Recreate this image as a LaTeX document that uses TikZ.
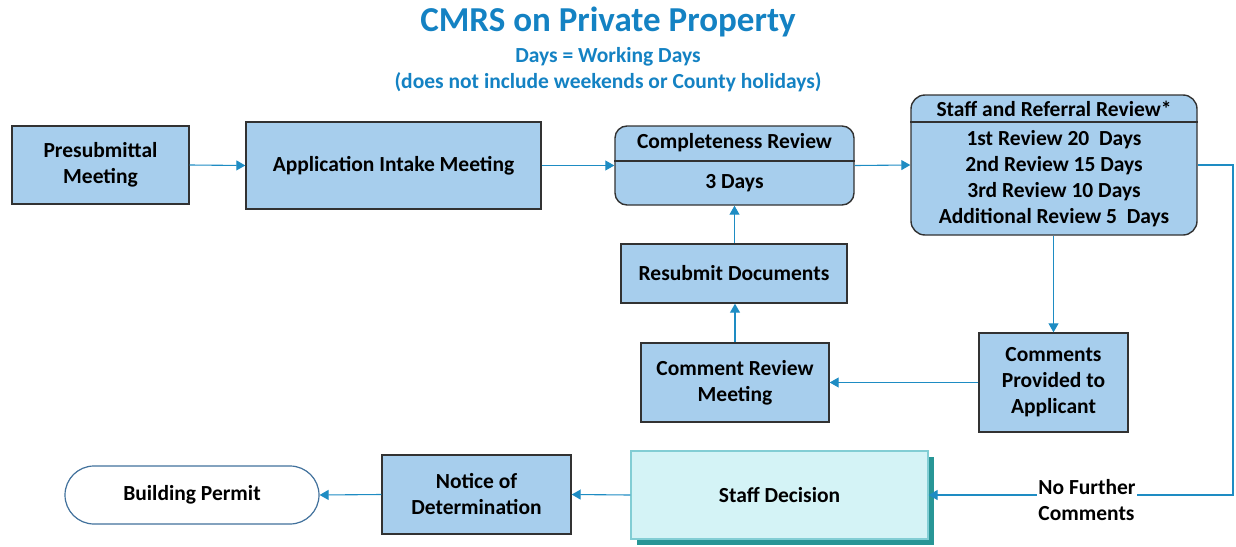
\documentclass[tikz,border=0pt]{standalone}
\usepackage{fontspec}
\setmainfont{Carlito}
\usetikzlibrary{arrows.meta}
\definecolor{boxfill}{RGB}{167,206,237}
\definecolor{boxline}{RGB}{50,50,50}
\definecolor{arrowc}{RGB}{30,140,195}
\definecolor{titlec}{RGB}{20,130,195}
\definecolor{sdfill}{RGB}{212,243,246}
\definecolor{sdline}{RGB}{130,205,212}
\definecolor{sdshadow}{RGB}{40,150,150}
\definecolor{bpline}{RGB}{65,113,156}
\tikzset{
  every node/.style={font=\bfseries\fontsize{21.5}{26}\selectfont, text=black},
  procbox/.style={draw=boxline, line width=1.4pt, fill=boxfill, align=center, inner sep=0pt},
  roundbox/.style={procbox, rounded corners=12pt},
  flow/.style={draw=arrowc, line width=1.1pt, -{Triangle[width=10pt,length=9pt]}},
  titletext/.style={text=titlec, font=\bfseries\fontsize{35}{40}\selectfont},
  subtext/.style={text=titlec, font=\bfseries\fontsize{21.5}{26}\selectfont},
}
\begin{document}
\begin{tikzpicture}[x=1pt, y=-1pt]
\useasboundingbox (0,0) rectangle (1236,546);
% titles
\node[titletext] (title) at (608,22) {CMRS on Private Property};
\node[subtext] (sub1) at (608,57) {Days = Working Days};
\node[subtext] (sub2) at (608,82) {(does not include weekends or County holidays)};
% top row
\node[procbox, minimum width=177pt, minimum height=78pt] (pre) at (100.5,165) {Presubmittal\\Meeting};
\node[procbox, minimum width=295pt, minimum height=87pt] (app) at (393.5,165.5) {Application Intake Meeting};
\node[roundbox, minimum width=239pt, minimum height=79pt] (cr) at (734.5,165.5) {};
\draw[boxline, line width=1.4pt] (cr.west |- 0,161) -- (cr.east |- 0,161);
\node (crt) at (734.5,143) {Completeness Review};
\node (crd) at (734.5,183) {3 Days};
\node[roundbox, rounded corners=14pt, minimum width=286pt, minimum height=140pt] (sr) at (1054,165) {};
\draw[boxline, line width=1.4pt] (sr.west |- 0,122) -- (sr.east |- 0,122);
\node (srt) at (1054,109) {Staff and Referral Review*};
\node (sr1) at (1054,140) {1st Review 20\ \ Days};
\node (sr2) at (1054,166) {2nd Review 15 Days};
\node (sr3) at (1054,192) {3rd Review 10 Days};
\node (sr4) at (1054,218) {Additional Review 5\ \ Days};
% middle
\node[procbox, minimum width=226pt, minimum height=59pt] (res) at (734,273.5) {Resubmit Documents};
\node[procbox, minimum width=188pt, minimum height=79pt] (crm) at (735,382.5) {Comment Review\\Meeting};
\node[procbox, minimum width=149pt, minimum height=99pt] (cpa) at (1053.5,382.5) {Comments\\Provided to\\Applicant};
% bottom
\fill[sdshadow] (637,457) rectangle (934,545);
\node[draw=sdline, line width=1.2pt, fill=sdfill, minimum width=297pt, minimum height=88pt, inner sep=0pt] (sd) at (779.5,495) {Staff Decision};
\node[procbox, minimum width=189pt, minimum height=79pt] (nod) at (476.5,494.5) {Notice of\\Determination};
\node[draw=bpline, line width=1.2pt, fill=white, rounded corners=29pt, minimum width=254pt, minimum height=58pt, inner sep=0pt] (bp) at (192,495) {Building Permit};
% connectors
\draw[flow] (pre.east) -- (app.west);
\draw[flow] (app.east) -- (cr.west);
\draw[flow] (cr.east) -- (sr.west);
\draw[flow] (res.north -| cr.south) -- (cr.south);
\draw[flow] (crm.north) -- (res.south -| crm.north);
\draw[flow] (sr.south -| cpa.north) -- (cpa.north);
\draw[flow] (cpa.west) -- (crm.east);
\coordinate (c1) at (1233,165);
\coordinate (c2) at (1233,495);
\draw[flow] (sr.east) -- (c1) -- (c2) -- (sd.east);
\node[fill=white, align=left, inner sep=1pt] (nfc) at (1087,500) {No Further\\Comments};
\draw[flow] (sd.west) -- (nod.east);
\draw[flow] (nod.west) -- (bp.east);
\end{tikzpicture}
\end{document}
